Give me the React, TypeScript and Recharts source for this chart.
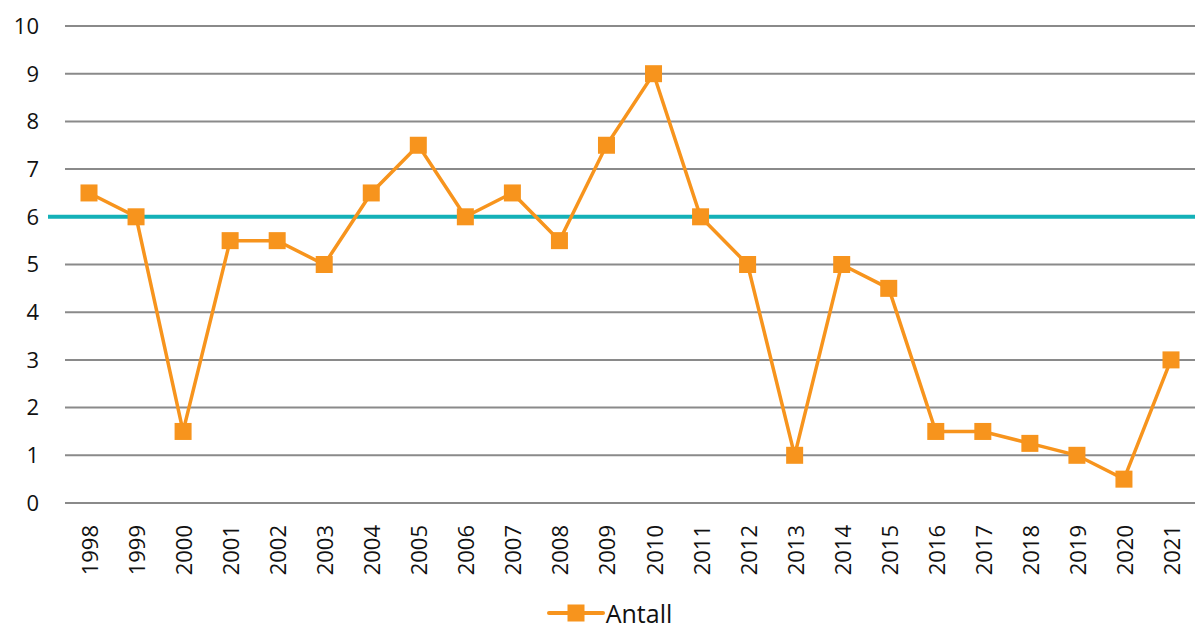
import { LineChart, Line, XAxis, YAxis, CartesianGrid, ReferenceLine, Legend } from "recharts";

const years = [
  "1998", "1999", "2000", "2001", "2002", "2003", "2004", "2005",
  "2006", "2007", "2008", "2009", "2010", "2011", "2012", "2013",
  "2014", "2015", "2016", "2017", "2018", "2019", "2020", "2021",
];

const antall = [
  6.5, 6, 1.5, 5.5, 5.5, 5, 6.5, 7.5, 6, 6.5, 5.5, 7.5,
  9, 6, 5, 1, 5, 4.5, 1.5, 1.5, 1.25, 1, 0.5, 3,
];

const yTicks = [0, 1, 2, 3, 4, 5, 6, 7, 8, 9, 10];
const average = 6;

const data = years.map((year, i) => ({ year, antall: antall[i] }));

const ORANGE = "#F7941D";
const TEAL = "#14B1B8";
const FONT = "'Open Sans', sans-serif";

const SquareDot = (props: any) => {
  const { cx, cy } = props;
  if (cx == null || cy == null) return null;
  return <rect x={cx - 8.5} y={cy - 8.5} width={17} height={17} fill={ORANGE} />;
};

const YearTick = (props: any) => {
  const { x, y, payload } = props;
  return (
    <text
      x={0}
      y={0}
      transform={`translate(${x},${y + 14}) rotate(-90)`}
      textAnchor="end"
      dominantBaseline="central"
      fontSize={22}
      fontFamily={FONT}
      fill="#111"
    >
      {payload.value}
    </text>
  );
};

const LegendBox = () => (
  <div style={{ height: 40, display: "flex", justifyContent: "center", alignItems: "center", paddingLeft: 14 }}>
    <svg width={58} height={20}>
      <line x1={2} y1={10} x2={56} y2={10} stroke={ORANGE} strokeWidth={4} strokeLinecap="round" />
      <rect x={20.5} y={1.5} width={17} height={17} fill={ORANGE} />
    </svg>
    <span style={{ fontFamily: FONT, fontSize: 25, lineHeight: "30px", color: "#111", marginLeft: 1 }}>Antall</span>
  </div>
);

// the average line sticks out a bit to the left of the plot area
const avgShape = (props: any) => {
  const { x1, x2, y1, y2 } = props;
  return <line x1={Number(x1) - 17} x2={x2} y1={y1} y2={y2} stroke={TEAL} strokeWidth={4} />;
};

export default function App() {
  return (
    <div style={{ position: "absolute", left: 0, top: 0, background: "#fff" }}>
      <LineChart width={1195} height={630} data={data} margin={{ top: 26, right: 0, left: 10, bottom: 0 }}>
        <CartesianGrid vertical={false} stroke="#8a8a8a" strokeWidth={2} />
        <XAxis
          dataKey="year"
          axisLine={false}
          tickLine={false}
          interval={0}
          height={87}
          padding={{ left: 24, right: 24 }}
          tick={<YearTick />}
        />
        <YAxis
          domain={[0, 10]}
          ticks={yTicks}
          axisLine={false}
          tickLine={false}
          tickSize={0}
          tickMargin={26}
          width={55}
          tick={{ fontSize: 22, fontFamily: FONT, fill: "#111" }}
        />
        <ReferenceLine y={average} shape={avgShape} ifOverflow="visible" />
        <Line
          type="linear"
          dataKey="antall"
          stroke={ORANGE}
          strokeWidth={3.5}
          dot={<SquareDot />}
          activeDot={false}
          isAnimationActive={false}
        />
        <Legend verticalAlign="bottom" wrapperStyle={{ bottom: -3 }} content={<LegendBox />} />
      </LineChart>
    </div>
  );
}
